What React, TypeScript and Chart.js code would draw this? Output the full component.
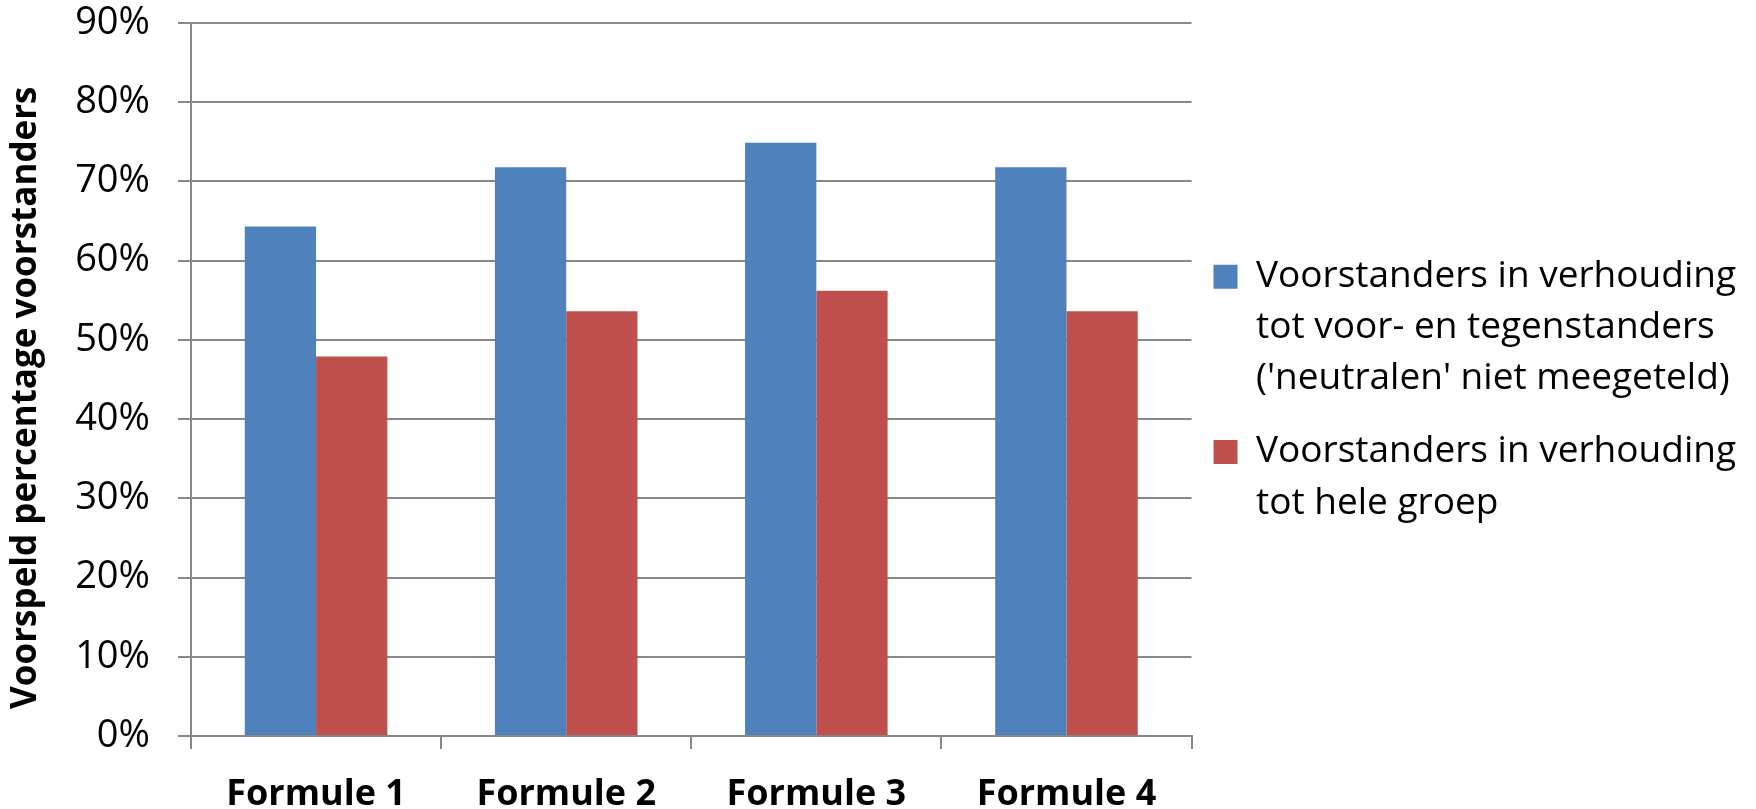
import React, { useEffect, useRef } from 'react';
import { Chart, registerables } from 'chart.js';

Chart.register(...registerables);

const categories = ['Formule 1', 'Formule 2', 'Formule 3', 'Formule 4'];
const vsVoorEnTegen = [64.3, 71.8, 74.9, 71.8];
const vsHeleGroep = [47.9, 53.6, 56.2, 53.6];
const legendLines = [
  ['Voorstanders in verhouding', 'tot voor- en tegenstanders', "('neutralen' niet meegeteld)"],
  ['Voorstanders in verhouding', 'tot hele groep'],
];
const yTitle = 'Voorspeld percentage voorstanders';
const yMax = 90;
const yStep = 10;

const FONT = '"Open Sans", Lato, sans-serif';
const GRID = '#878787';

const App: React.FC = () => {
  const canvasRef = useRef<HTMLCanvasElement>(null);

  useEffect(() => {
    document.body.style.margin = '0';
    if (!canvasRef.current) return;

    const chart = new Chart(canvasRef.current, {
      type: 'bar',
      data: {
        labels: categories,
        datasets: [
          { label: legendLines[0] as any, data: vsVoorEnTegen, backgroundColor: '#4F81BD', borderWidth: 0 },
          { label: legendLines[1] as any, data: vsHeleGroep, backgroundColor: '#C0504D', borderWidth: 0 },
        ],
      },
      options: {
        responsive: true,
        maintainAspectRatio: false,
        animation: false,
        datasets: { bar: { categoryPercentage: 0.57, barPercentage: 1.0 } },
        layout: { padding: { top: 23, left: 0, right: 10, bottom: 0 } },
        plugins: {
          tooltip: { enabled: false },
          legend: {
            position: 'right',
            align: 'center',
            fullSize: false,
            maxWidth: 700,
            // empty title only nudges the items down a bit
            title: { display: true, text: '', padding: 0, font: { size: 29, lineHeight: 1.2 } },
            labels: {
              boxWidth: 24,
              boxHeight: 24,
              padding: 22,
              color: '#000',
              font: { family: FONT, size: 37, lineHeight: 1.38 },
            },
          },
        },
        scales: {
          x: {
            afterFit: (scale) => { scale.height = 73; },
            grid: { display: true, drawOnChartArea: false, drawTicks: true, tickLength: 13, color: GRID, lineWidth: 2, offset: true },
            border: { color: GRID, width: 2 },
            ticks: { color: '#000', padding: 24, font: { family: FONT, size: 36, weight: 'bold' } },
          },
          y: {
            min: 0,
            max: yMax,
            afterFit: (scale) => {
              scale.width = 191;
              scale.paddingTop = 0;
              scale.paddingBottom = 0;
            },
            ticks: {
              stepSize: yStep,
              color: '#000',
              padding: 28,
              font: { family: FONT, size: 38 },
              callback: (v) => `${v}%`,
            },
            grid: { color: GRID, lineWidth: 2, tickLength: 13 },
            border: { color: GRID, width: 2 },
            title: {
              display: true,
              text: yTitle + '    ',
              color: '#000',
              padding: { top: 5, bottom: 0 },
              font: { family: FONT, size: 35, weight: 'bold' },
            },
          },
        },
      },
    });

    return () => chart.destroy();
  }, []);

  return (
    <div style={{ width: 1756, height: 809, position: 'relative' }}>
      <canvas ref={canvasRef}></canvas>
    </div>
  );
};

export default App;
